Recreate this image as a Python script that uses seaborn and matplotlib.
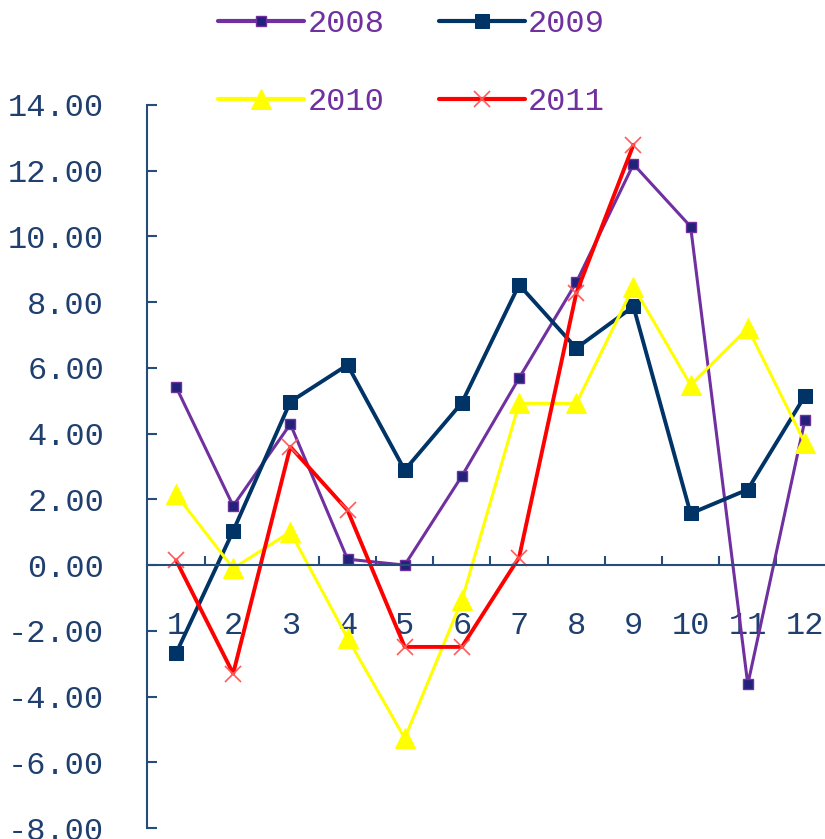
import matplotlib
matplotlib.use('Agg')

import numpy as np
import pandas as pd
import matplotlib.pyplot as plt
import seaborn as sns

# monthly values
months = list(range(1, 13))
y2008 = [5.43, 1.80, 4.29, 0.18, 0.00, 2.71, 5.69, 8.60, 12.20, 10.30, -3.63, 4.42]
y2009 = [-2.69, 1.04, 4.97, 6.09, 2.89, 4.94, 8.53, 6.60, 7.87, 1.57, 2.30, 5.15]
y2010 = [2.15, -0.10, 1.01, -2.22, -5.27, -1.07, 4.92, 4.92, 8.47, 5.48, 7.21, 3.71]
y2011 = [0.15, -3.30, 3.60, 1.67, -2.49, -2.49, 0.23, 8.27, 12.79, np.nan, np.nan, np.nan]
years = ['2008', '2009', '2010', '2011']
yticks = [-8, -6, -4, -2, 0, 2, 4, 6, 8, 10, 12, 14]

df = pd.DataFrame({'month': months, '2008': y2008, '2009': y2009,
                   '2010': y2010, '2011': y2011})

sns.set_style('white')
plt.rcParams['font.family'] = ['Liberation Mono', 'DejaVu Sans Mono']

axis_color = '#264D7A'
text_color = '#1F3F6F'
legend_color = '#7030A0'

styles = {
    '2008': dict(color='#7030A0', marker='s', markersize=7.5, lw=2.2,
                 markerfacecolor='#22227A', markeredgecolor='#7030A0', markeredgewidth=1),
    '2009': dict(color='#003366', marker='s', markersize=9.5, lw=2.8,
                 markerfacecolor='#003366', markeredgecolor='#003366'),
    '2010': dict(color='#FFFF00', marker='^', markersize=14, lw=2.2,
                 markerfacecolor='#FFFF00', markeredgecolor='#FFFF00'),
    '2011': dict(color='#FF0000', marker='x', markersize=12, lw=2.8,
                 markeredgecolor='#FF5A5A', markeredgewidth=1.2),
}

fig = plt.figure(figsize=(8.25, 8.39), dpi=100)
ax = fig.add_axes([147.4 / 825, 11 / 839, 12 * 57.18 / 825, 723 / 839])

for yr in years:
    sns.lineplot(data=df, x='month', y=yr, ax=ax, label=yr, **styles[yr])

ax.set_xlim(0.5, 12.5)
ax.set_ylim(-8, 14)
ax.set_xlabel('')
ax.set_ylabel('')

# y axis
ax.set_yticks(yticks)
ax.set_yticklabels([f'{v:.2f}' for v in yticks])
ax.tick_params(axis='y', left=True, direction='in', length=7, width=1.5,
               color=axis_color, labelcolor=text_color, labelsize=23, pad=31)

# x axis through zero, ticks between categories
ax.spines['bottom'].set_position(('data', 0))
ax.set_xticks(months)
ax.set_xticks([m + 0.5 for m in months[:-1]], minor=True)
ax.tick_params(axis='x', which='major', bottom=True, length=0,
               labelcolor=text_color, labelsize=23, pad=33)
ax.tick_params(axis='x', which='minor', bottom=True, direction='in', length=6.5,
               width=1.5, color=axis_color)

for side in ['top', 'right']:
    ax.spines[side].set_visible(False)
for side in ['left', 'bottom']:
    ax.spines[side].set_color(axis_color)
    ax.spines[side].set_linewidth(1.5)

ax.get_legend().remove()
handles, labels = ax.get_legend_handles_labels()
order = [0, 2, 1, 3]  # fill the 2x2 legend row by row
leg = fig.legend([handles[i] for i in order], [labels[i] for i in order],
                 ncol=2, loc='upper left',
                 bbox_to_anchor=(218 / 825, 1 - 9 / 839), frameon=False,
                 fontsize=23, handlelength=2.7, handletextpad=0.1,
                 columnspacing=1.7, labelspacing=1.5, borderpad=0, borderaxespad=0)
for t in leg.get_texts():
    t.set_color(legend_color)
for line in leg.get_lines():
    line.set_linewidth(3)

fig.savefig('out.png', dpi=100)
plt.close()
